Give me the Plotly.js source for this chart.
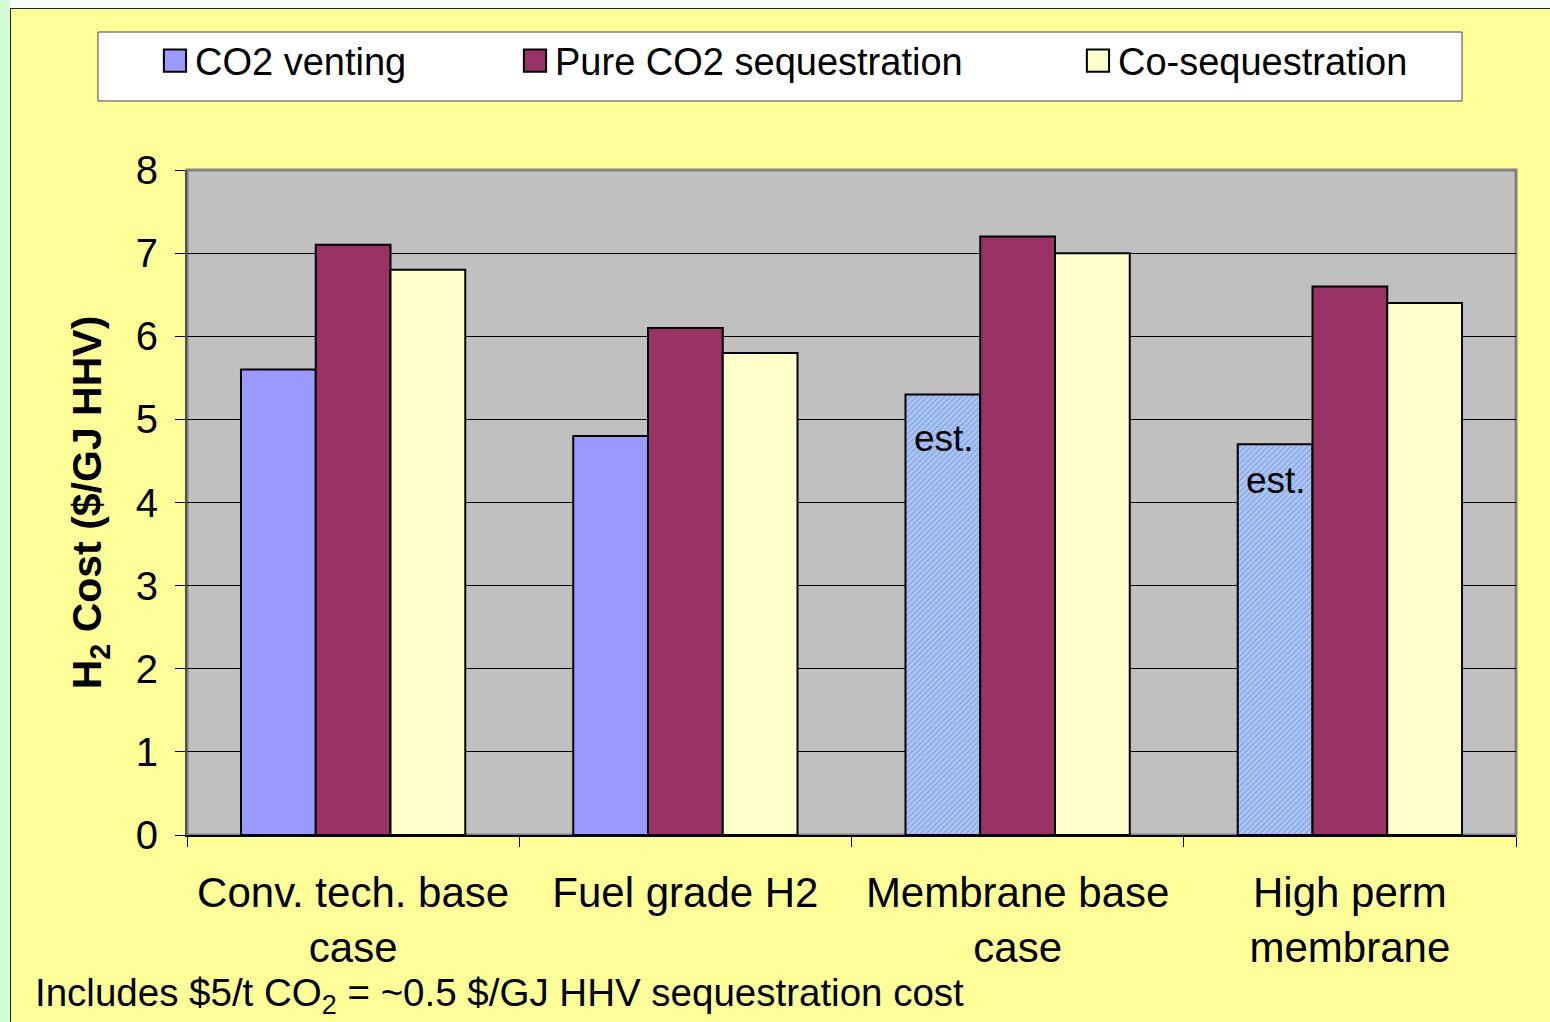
<!DOCTYPE html>
<html>
<head>
<meta charset="utf-8">
<script src="https://cdn.plot.ly/plotly-3.0.1.min.js"></script>
<style>
  html, body { margin: 0; padding: 0; width: 1550px; height: 1022px; overflow: hidden; background: #f6fff6; }
  #strip { position: absolute; left: 0; top: 0; width: 10px; height: 1022px; background: #d4fbd4; }
  #frame { position: absolute; left: 10px; top: 8px; width: 1540px; height: 1014px; border-left: 1px solid #222; border-top: 1px solid #222; background: #ffff99; }
  #chart { position: absolute; left: 0; top: 0; width: 1540px; height: 1014px; }
</style>
</head>
<body>
<div id="strip"></div>
<div id="frame"><div id="chart"></div></div>
<script>
const categories = ["Conv. tech. base<br>case", "Fuel grade H2", "Membrane base<br>case", "High perm<br>membrane"];
const seriesNames = ["CO2 venting", "Pure CO2 sequestration", "Co-sequestration"];
const co2Venting = [5.6, 4.8, 5.3, 4.7];
const pureCO2Seq = [7.1, 6.1, 7.2, 6.6];
const coSeq = [6.8, 5.8, 7.0, 6.4];
const estimated = [false, false, true, true];
const yTicks = [0, 1, 2, 3, 4, 5, 6, 7, 8];
const footnote = "Includes $5/t CO<sub>2</sub> = ~0.5 $/GJ HHV sequestration cost";
const yTitle = "H<sub>2</sub> Cost ($/GJ HHV)";

const FONT = "Liberation Sans, Arial, sans-serif";
const ventColor = estimated.map(e => e ? "#a8c6ff" : "#9999ff");
const ventPattern = estimated.map(e => e ? "/" : "");

const traces = [
  {
    type: "bar", name: seriesNames[0], x: categories, y: co2Venting, legend: "legend",
    marker: { color: ventColor, line: { color: "#000", width: 2 },
              pattern: { shape: ventPattern, fillmode: "overlay", fgcolor: "#8aa8ff", fgopacity: 0.35, size: 4, solidity: 0.25 } }
  },
  {
    type: "bar", name: seriesNames[1], x: categories, y: pureCO2Seq, legend: "legend2",
    marker: { color: "#993366", line: { color: "#000", width: 2 } }
  },
  {
    type: "bar", name: seriesNames[2], x: categories, y: coSeq, legend: "legend3",
    marker: { color: "#ffffcc", line: { color: "#000", width: 2 } }
  }
];

const estAnnotations = [];
categories.forEach((c, i) => {
  if (estimated[i]) {
    estAnnotations.push({
      x: c, y: co2Venting[i], xref: "x", yref: "y",
      text: "est.", showarrow: false, xanchor: "center", yanchor: "top",
      xshift: -74, yshift: i === 2 ? -22 : -14,
      font: { family: FONT, size: 37, color: "#000" }
    });
  }
});

const legendBase = {
  orientation: "h", bgcolor: "rgba(0,0,0,0)", borderwidth: 0,
  font: { family: FONT, size: 38, color: "#000" },
  yanchor: "middle", y: 1.164, xanchor: "left"
};

const layout = {
  width: 1540, height: 1014,
  margin: { l: 176, r: 35, t: 161, b: 188 },
  paper_bgcolor: "rgba(0,0,0,0)",
  plot_bgcolor: "#c0c0c0",
  barmode: "group", bargap: 0.325, bargroupgap: 0,
  font: { family: FONT, color: "#000" },
  xaxis: {
    type: "category", showline: true, linecolor: "#000", linewidth: 2,
    ticks: "outside", tickson: "boundaries", ticklen: 10, tickcolor: "#000", tickwidth: 1,
    ticklabelstandoff: 20,
    tickfont: { family: FONT, size: 42, color: "#000" },
    showgrid: false, zeroline: false
  },
  yaxis: {
    range: [0, 8], tickvals: yTicks, ticktext: yTicks.map(String),
    showline: true, linecolor: "#505050", linewidth: 2,
    ticks: "outside", ticklen: 10, tickcolor: "#000", tickwidth: 1,
    ticklabelstandoff: 9,
    tickfont: { family: FONT, size: 40, color: "#000" },
    showgrid: true, gridcolor: "#000", gridwidth: 1, zeroline: false,
    title: { text: yTitle, font: { family: FONT, size: 41, color: "#000", weight: "bold" }, standoff: 21 }
  },
  legend: Object.assign({}, legendBase, { x: -0.0241 }),
  legend2: Object.assign({}, legendBase, { x: 0.2468 }),
  legend3: Object.assign({}, legendBase, { x: 0.6704 }),
  shapes: [
    { type: "rect", xref: "paper", yref: "paper", x0: -0.067, x1: 0.9594, y0: 1.1038, y1: 1.2075,
      fillcolor: "#ffffff", line: { color: "#404040", width: 1 }, layer: "below" },
    { type: "rect", xref: "paper", yref: "paper", x0: 0, x1: 1, y0: 0, y1: 1,
      fillcolor: "rgba(0,0,0,0)", line: { color: "#808080", width: 3 }, layer: "below" }
  ],
  annotations: estAnnotations.concat([
    { xref: "paper", yref: "paper", x: 0, y: 0, xanchor: "left", yanchor: "middle",
      xshift: -154, yshift: -160, showarrow: false, text: footnote,
      font: { family: FONT, size: 38.5, color: "#000" } }
  ]),
  showlegend: true
};

Plotly.newPlot("chart", traces, layout, { displayModeBar: false, staticPlot: true }).then(() => {
  document.querySelectorAll("#chart .legendpoints path").forEach(p => {
    const t = p.getAttribute("transform") || "";
    p.setAttribute("transform", t + " scale(1.85)");
    p.style.strokeWidth = "1.1px";
    p.style.stroke = "#000";
  });
});
</script>
</body>
</html>
